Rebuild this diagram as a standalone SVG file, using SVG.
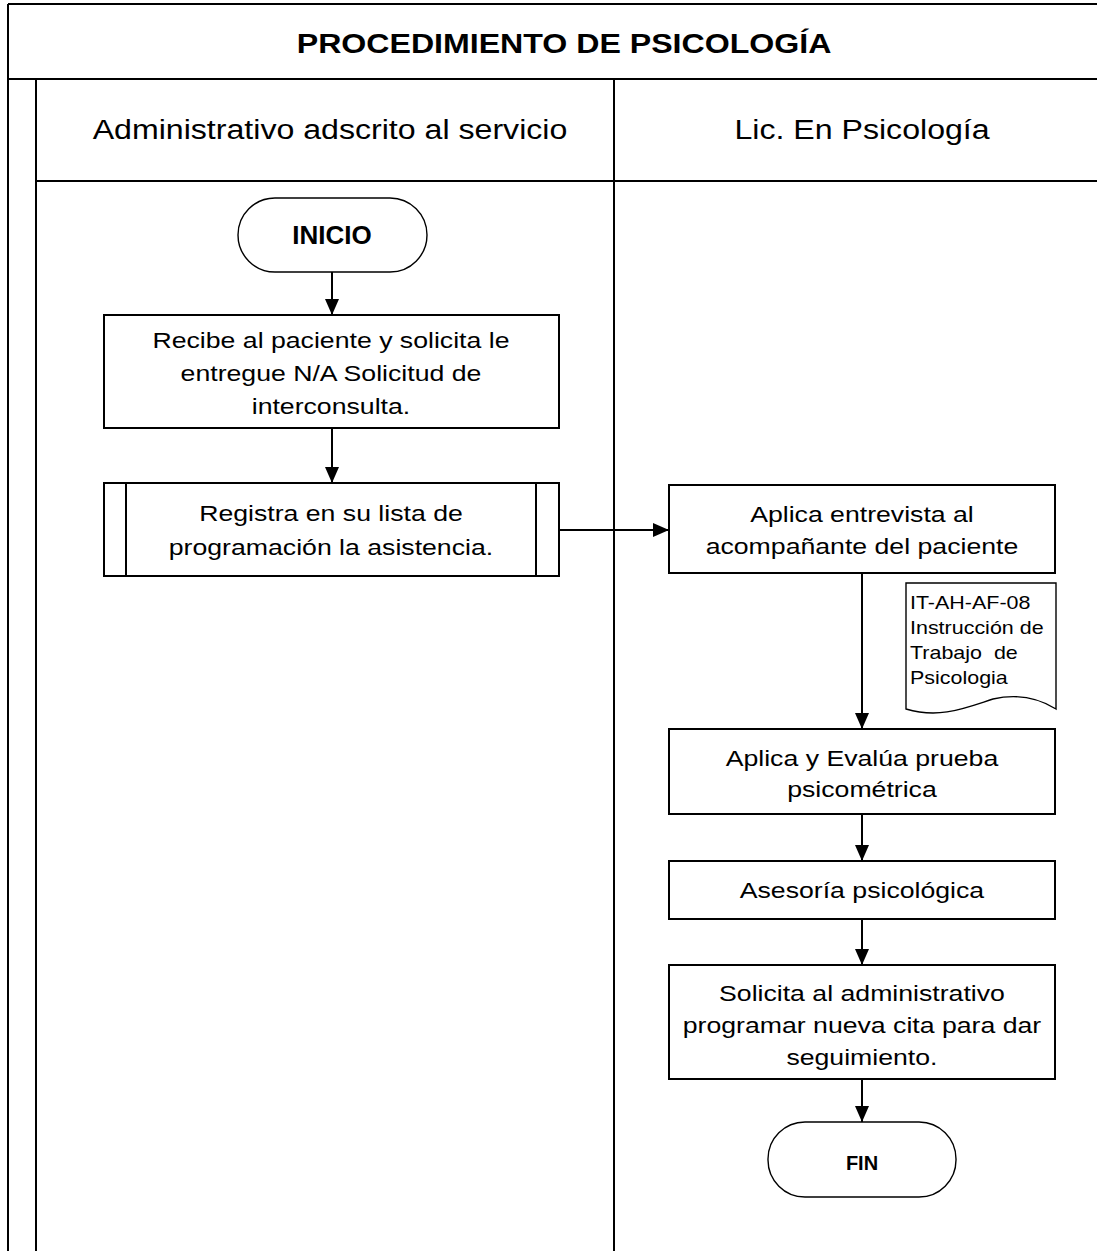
<svg xmlns="http://www.w3.org/2000/svg" width="1097" height="1251" viewBox="0 0 1097 1251">
<defs>
<style>
.frame{fill:none;stroke:#000;stroke-width:2}
.box{fill:#fff;stroke:#000;stroke-width:2}
.term{fill:#fff;stroke:#000;stroke-width:1.4}
.t{font-family:"Liberation Sans",Arial,sans-serif;fill:#000;text-anchor:middle}
.body{font-size:22.5px}
.hdr{font-size:27px}
.doc{font-family:"Liberation Sans",Arial,sans-serif;font-size:19px;fill:#000}
.conn{stroke:#000;stroke-width:2;fill:none;marker-end:url(#ah)}
</style>
<marker id="ah" viewBox="0 0 16 14" refX="16" refY="7" markerWidth="16" markerHeight="14" markerUnits="userSpaceOnUse" orient="auto">
<path d="M0,0 L16,7 L0,14 z" fill="#000"/>
</marker>
</defs>
<rect width="1097" height="1251" fill="#fff"/>
<g id="frame">
<line class="frame" x1="8" y1="4" x2="1097" y2="4"/>
<line class="frame" x1="8" y1="4" x2="8" y2="1251"/>
<line class="frame" x1="8" y1="79" x2="1097" y2="79"/>
<line class="frame" x1="36" y1="79" x2="36" y2="1251"/>
<line class="frame" x1="614" y1="79" x2="614" y2="1251"/>
<line class="frame" x1="36" y1="181" x2="1097" y2="181"/>
<g transform="scale(1.19 1)">
<text class="t" x="474" y="53" style="font-size:27px;font-weight:bold">PROCEDIMIENTO DE PSICOLOGÍA</text>
<text class="t hdr" x="277.3" y="139">Administrativo adscrito al servicio</text>
<text class="t hdr" x="724.4" y="139">Lic. En Psicología</text>
</g>
</g>
<g id="connectors">
<line class="conn" x1="332" y1="272" x2="332" y2="315"/>
<line class="conn" x1="332" y1="428" x2="332" y2="483"/>
<line class="conn" x1="559" y1="530" x2="669" y2="530"/>
<line class="conn" x1="862" y1="573" x2="862" y2="729"/>
<line class="conn" x1="862" y1="814" x2="862" y2="861"/>
<line class="conn" x1="862" y1="919" x2="862" y2="965"/>
<line class="conn" x1="862" y1="1079" x2="862" y2="1122"/>
</g>
<g id="inicio">
<rect class="term" x="238" y="198" width="189" height="74" rx="37"/>
<text class="t" x="332" y="244" style="font-size:26px;font-weight:bold">INICIO</text>
</g>
<g id="recibe">
<rect class="box" x="104" y="315" width="455" height="113"/>
<g transform="scale(1.185 1)">
<text class="t body" x="279.3" y="348">Recibe al paciente y solicita le</text>
<text class="t body" x="279.3" y="381">entregue N/A Solicitud de</text>
<text class="t body" x="279.3" y="414">interconsulta.</text>
</g>
</g>
<g id="registra">
<rect class="box" x="104" y="483" width="455" height="93"/>
<line class="frame" x1="126" y1="483" x2="126" y2="576"/>
<line class="frame" x1="536" y1="483" x2="536" y2="576"/>
<g transform="scale(1.185 1)">
<text class="t body" x="279.3" y="521">Registra en su lista de</text>
<text class="t body" x="279.3" y="555">programación la asistencia.</text>
</g>
</g>
<g id="entrevista">
<rect class="box" x="669" y="485" width="386" height="88"/>
<g transform="scale(1.185 1)">
<text class="t body" x="727.4" y="522">Aplica entrevista al</text>
<text class="t body" x="727.4" y="554">acompañante del paciente</text>
</g>
</g>
<g id="documento">
<path class="term" d="M906,583 H1056 V709 C1035,696 1015,694 993,699 C965,708 940,719 906,709 Z"/>
<g transform="scale(1.13 1)">
<text class="doc" x="805.3" y="609">IT-AH-AF-08</text>
<text class="doc" x="805.3" y="634">Instrucción de</text>
<text class="doc" x="805.3" y="659" xml:space="preserve">Trabajo  de</text>
<text class="doc" x="805.3" y="684">Psicologia</text>
</g>
</g>
<g id="evalua">
<rect class="box" x="669" y="729" width="386" height="85"/>
<g transform="scale(1.185 1)">
<text class="t body" x="727.4" y="766">Aplica y Evalúa prueba</text>
<text class="t body" x="727.4" y="797">psicométrica</text>
</g>
</g>
<g id="asesoria">
<rect class="box" x="669" y="861" width="386" height="58"/>
<g transform="scale(1.185 1)">
<text class="t body" x="727.4" y="898">Asesoría psicológica</text>
</g>
</g>
<g id="solicita">
<rect class="box" x="669" y="965" width="386" height="114"/>
<g transform="scale(1.185 1)">
<text class="t body" x="727.4" y="1001">Solicita al administrativo</text>
<text class="t body" x="727.4" y="1033">programar nueva cita para dar</text>
<text class="t body" x="727.4" y="1065">seguimiento.</text>
</g>
</g>
<g id="fin">
<rect class="term" x="768" y="1122" width="188" height="75" rx="37"/>
<text class="t" x="862" y="1170" style="font-size:20px;font-weight:bold">FIN</text>
</g>
</svg>
